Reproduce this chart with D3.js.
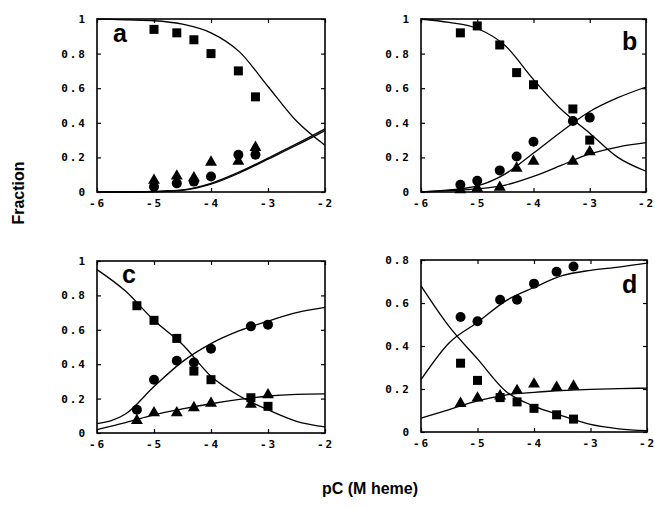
<!DOCTYPE html>
<html lang="en">
<head>
<meta charset="UTF-8"/>
<title>Fraction vs pC</title>
<script src="https://d3js.org/d3.v7.min.js"></script>
<style>
  body { margin: 0; background: #fff; }
  .tick text { font-family: "DejaVu Sans Mono", monospace; font-weight: bold; font-size: 11px; letter-spacing: 2px; fill: #000; }
  .tick line { stroke: #000; stroke-width: 1.2; }
  .lbl { font-family: "Liberation Sans", Arial, sans-serif; font-weight: bold; fill: #000; }
</style>
</head>
<body>
<div id="chart"></div>
<script>
// x tick labels (pC)
var xTicks = [-6, -5, -4, -3, -2];
// x positions of the smooth fit curves
var curveX = [-6, -5.5, -5, -4.5, -4, -3.5, -3, -2.5, -2];

// panel a
var aX = [-5, -4.6, -4.3, -4, -3.52, -3.22];
var aSq = [0.94, 0.92, 0.88, 0.80, 0.70, 0.55];
var aCi = [0.03, 0.05, 0.06, 0.09, 0.215, 0.215];
var aTr = [0.07, 0.095, 0.085, 0.175, 0.18, 0.26];
var aFitSq = [1.0, 0.995, 0.99, 0.97, 0.92, 0.81, 0.61, 0.41, 0.27];
var aFitCi = [0, 0, 0.002, 0.01, 0.045, 0.11, 0.19, 0.27, 0.355];
var aFitTr = [0, 0, 0.003, 0.012, 0.05, 0.116, 0.196, 0.278, 0.365];

// panel b
var bX = [-5.3, -5, -4.6, -4.3, -4, -3.3, -3];
var bSq = [0.92, 0.96, 0.85, 0.69, 0.62, 0.48, 0.30];
var bCi = [0.042, 0.065, 0.125, 0.205, 0.29, 0.41, 0.43];
var bTr = [0.015, 0.025, 0.03, 0.14, 0.18, 0.18, 0.235];
var bFitSq = [1.0, 0.98, 0.945, 0.845, 0.65, 0.475, 0.34, 0.2, 0.12];
var bFitCi = [0, 0.012, 0.035, 0.105, 0.225, 0.35, 0.465, 0.545, 0.607];
var bFitTr = [0, 0.008, 0.018, 0.04, 0.09, 0.155, 0.22, 0.26, 0.285];

// panel c
var cX = [-5.3, -5, -4.6, -4.3, -4, -3.3, -3];
var cSq = [0.74, 0.655, 0.55, 0.36, 0.31, 0.205, 0.155];
var cCi = [0.135, 0.31, 0.42, 0.41, 0.49, 0.62, 0.63];
var cTr = [0.075, 0.12, 0.12, 0.15, 0.175, 0.17, 0.225];
var cFitSq = [0.95, 0.825, 0.655, 0.515, 0.33, 0.215, 0.135, 0.068, 0.035];
var cFitCi = [0.054, 0.11, 0.27, 0.415, 0.52, 0.595, 0.65, 0.70, 0.73];
var cFitTr = [0.02, 0.06, 0.105, 0.14, 0.17, 0.195, 0.215, 0.225, 0.228];

// panel d
var dX = [-5.3, -5, -4.6, -4.3, -4, -3.6, -3.3];
var dSq = [0.32, 0.24, 0.16, 0.14, 0.11, 0.08, 0.06];
var dCi = [0.535, 0.515, 0.615, 0.615, 0.69, 0.745, 0.77];
var dTr = [0.135, 0.16, 0.17, 0.195, 0.225, 0.21, 0.215];
var dFitSq = [0.68, 0.49, 0.34, 0.19, 0.12, 0.075, 0.035, 0.015, 0.006];
var dFitCi = [0.243, 0.415, 0.51, 0.61, 0.672, 0.727, 0.752, 0.767, 0.785];
var dFitTr = [0.065, 0.104, 0.145, 0.172, 0.184, 0.193, 0.198, 0.202, 0.204];

var w = 655, h = 509;

var panels = [
  {name: "a", x0: 97, x1: 325, y0: 19, y1: 192, yMax: 1, yTicks: [0, 0.2, 0.4, 0.6, 0.8, 1],
   xs: aX, sq: aSq, ci: aCi, tr: aTr, fits: [aFitSq, aFitCi, aFitTr], lx: 113, ly: 42},
  {name: "b", x0: 421, x1: 646, y0: 19, y1: 192, yMax: 1, yTicks: [0, 0.2, 0.4, 0.6, 0.8, 1],
   xs: bX, sq: bSq, ci: bCi, tr: bTr, fits: [bFitSq, bFitCi, bFitTr], lx: 622, ly: 50},
  {name: "c", x0: 97, x1: 325, y0: 261, y1: 433, yMax: 1, yTicks: [0, 0.2, 0.4, 0.6, 0.8, 1],
   xs: cX, sq: cSq, ci: cCi, tr: cTr, fits: [cFitSq, cFitCi, cFitTr], lx: 122, ly: 283},
  {name: "d", x0: 421, x1: 647, y0: 260, y1: 432, yMax: 0.8, yTicks: [0, 0.2, 0.4, 0.6, 0.8],
   xs: dX, sq: dSq, ci: dCi, tr: dTr, fits: [dFitSq, dFitCi, dFitTr], lx: 622, ly: 293}
];

var svg = d3.select("#chart").append("svg")
  .attr("width", w).attr("height", h);

var fmtY = function(d) { return d === 0 ? "0" : d === 1 ? "1" : d3.format(".1f")(d); };
var fmtX = function(d) { return (d < 0 ? "-" : "") + Math.abs(d); };

panels.forEach(function(p) {
  var x = d3.scaleLinear().domain([-6, -2]).range([p.x0, p.x1]);
  var y = d3.scaleLinear().domain([0, p.yMax]).range([p.y1, p.y0]);
  var g = svg.append("g");

  // inward ticks on all four sides
  var bottom = g.append("g").attr("transform", "translate(0," + p.y1 + ")")
    .call(d3.axisBottom(x).tickValues(xTicks).tickSize(-4).tickPadding(7).tickFormat(fmtX));
  var left = g.append("g").attr("transform", "translate(" + p.x0 + ",0)")
    .call(d3.axisLeft(y).tickValues(p.yTicks).tickSize(-4).tickPadding(10).tickFormat(fmtY));
  var top = g.append("g").attr("transform", "translate(0," + p.y0 + ")")
    .call(d3.axisTop(x).tickValues(xTicks).tickSize(-4).tickFormat(""));
  var right = g.append("g").attr("transform", "translate(" + p.x1 + ",0)")
    .call(d3.axisRight(y).tickValues(p.yTicks).tickSize(-4).tickFormat(""));
  [bottom, left, top, right].forEach(function(a) { a.select(".domain").remove(); });

  g.append("rect")
    .attr("x", p.x0).attr("y", p.y0)
    .attr("width", p.x1 - p.x0).attr("height", p.y1 - p.y0)
    .attr("fill", "none").attr("stroke", "#000").attr("stroke-width", 1.6);

  var line = d3.line()
    .x(function(d, i) { return x(curveX[i]); })
    .y(function(d) { return y(d); })
    .curve(d3.curveMonotoneX);

  g.selectAll("path.fit").data(p.fits).enter().append("path")
    .attr("class", "fit")
    .attr("d", line)
    .attr("fill", "none").attr("stroke", "#000").attr("stroke-width", 1.3);

  // squares
  g.selectAll("rect.sq").data(p.sq).enter().append("rect")
    .attr("class", "sq")
    .attr("x", function(d, i) { return x(p.xs[i]) - 4.5; })
    .attr("y", function(d) { return y(d) - 4.5; })
    .attr("width", 9).attr("height", 9)
    .attr("fill", "#000");

  // triangles
  var tri = d3.symbol().type(d3.symbolTriangle).size(62);
  g.selectAll("path.tr").data(p.tr).enter().append("path")
    .attr("class", "tr")
    .attr("d", tri)
    .attr("transform", function(d, i) { return "translate(" + x(p.xs[i]) + "," + (y(d) + 0.5) + ")"; })
    .attr("fill", "#000");

  // circles
  g.selectAll("circle.ci").data(p.ci).enter().append("circle")
    .attr("class", "ci")
    .attr("cx", function(d, i) { return x(p.xs[i]); })
    .attr("cy", function(d) { return y(d); })
    .attr("r", 5)
    .attr("fill", "#000");

  g.append("text").attr("class", "lbl")
    .attr("x", p.lx).attr("y", p.ly)
    .style("font-size", "25px")
    .text(p.name);
});

svg.append("text").attr("class", "lbl")
  .attr("transform", "translate(24,193) rotate(-90)")
  .attr("text-anchor", "middle")
  .style("font-size", "16px")
  .text("Fraction");

svg.append("text").attr("class", "lbl")
  .attr("x", 370).attr("y", 494)
  .attr("text-anchor", "middle")
  .style("font-size", "16px")
  .text("pC (M heme)");
</script>
</body>
</html>
